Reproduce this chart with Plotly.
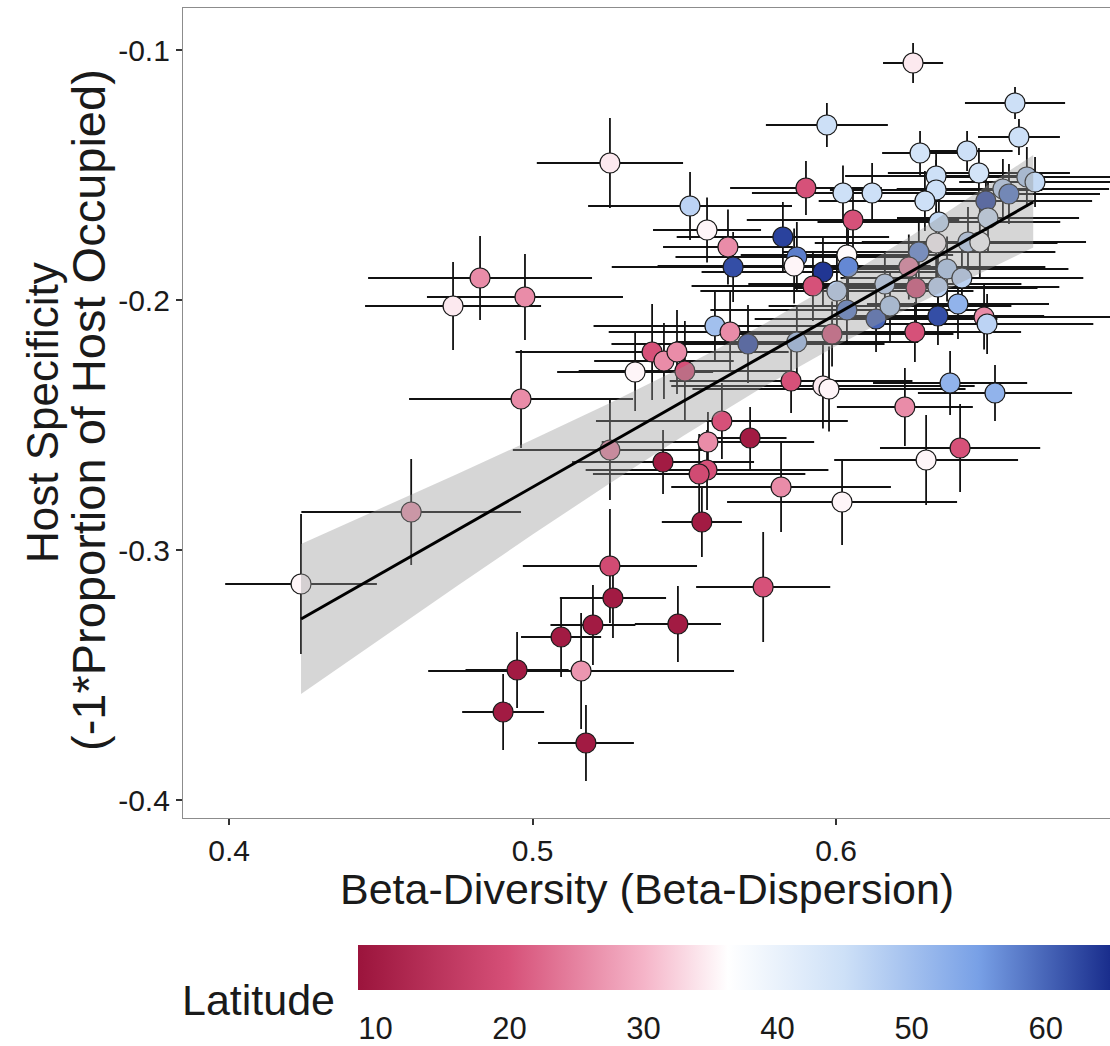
import plotly.graph_objects as go

# ---- data ----
beta_div = [0.5255, 0.4827, 0.4975, 0.4738, 0.4962, 0.5338, 0.4237, 0.4600, 0.5255, 0.5255,
            0.5265, 0.5199, 0.5094, 0.4949, 0.5160, 0.4903, 0.5176, 0.5624, 0.5717, 0.5578,
            0.5430, 0.5575, 0.5549, 0.5819, 0.6020, 0.6297, 0.6409, 0.6227, 0.5558, 0.5760,
            0.5479, 0.5394, 0.5433, 0.5476, 0.5502, 0.5601, 0.5651, 0.5710, 0.5871, 0.5987,
            0.6036, 0.6132, 0.6178, 0.6260, 0.6336, 0.6402, 0.6488, 0.6498, 0.6376, 0.6524,
            0.5852, 0.5957, 0.5977, 0.6254, 0.6590, 0.6603, 0.5970, 0.6277, 0.6432, 0.6330,
            0.6471, 0.6330, 0.6293, 0.6119, 0.6023, 0.5901, 0.6056, 0.6629, 0.6656, 0.6550,
            0.6570, 0.6494, 0.6501, 0.6339, 0.6435, 0.6474, 0.6330, 0.6273, 0.6240, 0.6366,
            0.6415, 0.6336, 0.6264, 0.6161, 0.5519, 0.5575, 0.5644, 0.5661, 0.5825, 0.5871,
            0.5862, 0.5957, 0.5924, 0.6036, 0.6040, 0.6003]
host_spec = [-0.1452, -0.1912, -0.1988, -0.2024, -0.2396, -0.2288, -0.3136, -0.2848, -0.2600, -0.3064,
             -0.3192, -0.3300, -0.3348, -0.3480, -0.3484, -0.3648, -0.3772, -0.2484, -0.2552, -0.2568,
             -0.2648, -0.2680, -0.2696, -0.2748, -0.2808, -0.2640, -0.2592, -0.2428, -0.2888, -0.3148,
             -0.3296, -0.2208, -0.2244, -0.2208, -0.2284, -0.2104, -0.2128, -0.2176, -0.2168, -0.2136,
             -0.2040, -0.2076, -0.2024, -0.2128, -0.2064, -0.2016, -0.2068, -0.2096, -0.2332, -0.2372,
             -0.2324, -0.2344, -0.2356, -0.1052, -0.1212, -0.1348, -0.1300, -0.1412, -0.1404, -0.1504,
             -0.1492, -0.1560, -0.1604, -0.1572, -0.1572, -0.1552, -0.1680, -0.1508, -0.1528, -0.1556,
             -0.1576, -0.1604, -0.1672, -0.1688, -0.1768, -0.1768, -0.1772, -0.1808, -0.1868, -0.1876,
             -0.1912, -0.1948, -0.1952, -0.1936, -0.1624, -0.1720, -0.1788, -0.1868, -0.1748, -0.1828,
             -0.1864, -0.1888, -0.1944, -0.1820, -0.1868, -0.1964]
beta_err = [0.0241, 0.0369, 0.0323, 0.0290, 0.0369, 0.0257, 0.0250, 0.0362, 0.0320, 0.0287,
            0.0175, 0.0140, 0.0132, 0.0170, 0.0504, 0.0135, 0.0158, 0.0415, 0.0120, 0.0350,
            0.0300, 0.0400, 0.0350, 0.0362, 0.0379, 0.0303, 0.0264, 0.0224, 0.0132, 0.0221,
            0.0142, 0.0450, 0.0230, 0.0300, 0.0350, 0.0400, 0.0400, 0.0450, 0.0400, 0.0400,
            0.0450, 0.0400, 0.0400, 0.0350, 0.0350, 0.0300, 0.0450, 0.0350, 0.0254, 0.0254,
            0.0400, 0.0500, 0.0450, 0.0099, 0.0165, 0.0135, 0.0201, 0.0125, 0.0150, 0.0300,
            0.0300, 0.0350, 0.0350, 0.0350, 0.0300, 0.0250, 0.0350, 0.0300, 0.0250, 0.0350,
            0.0300, 0.0350, 0.0300, 0.0400, 0.0350, 0.0350, 0.0400, 0.0450, 0.0450, 0.0400,
            0.0400, 0.0400, 0.0400, 0.0450, 0.0336, 0.0178, 0.0214, 0.0400, 0.0350, 0.0400,
            0.0450, 0.0400, 0.0400, 0.0350, 0.0400, 0.0450]
host_err = [0.0180, 0.0168, 0.0172, 0.0176, 0.0196, 0.0156, 0.0280, 0.0212, 0.0200, 0.0228,
            0.0160, 0.0160, 0.0160, 0.0152, 0.0232, 0.0152, 0.0152, 0.0152, 0.0124, 0.0120,
            0.0128, 0.0160, 0.0160, 0.0180, 0.0172, 0.0180, 0.0176, 0.0156, 0.0140, 0.0220,
            0.0152, 0.0192, 0.0152, 0.0168, 0.0200, 0.0144, 0.0160, 0.0156, 0.0140, 0.0130,
            0.0140, 0.0132, 0.0140, 0.0120, 0.0116, 0.0140, 0.0130, 0.0120, 0.0128, 0.0112,
            0.0128, 0.0170, 0.0170, 0.0080, 0.0064, 0.0072, 0.0088, 0.0088, 0.0080, 0.0100,
            0.0100, 0.0120, 0.0120, 0.0120, 0.0110, 0.0108, 0.0120, 0.0120, 0.0100, 0.0120,
            0.0120, 0.0120, 0.0140, 0.0140, 0.0140, 0.0140, 0.0140, 0.0140, 0.0130, 0.0130,
            0.0120, 0.0120, 0.0140, 0.0130, 0.0136, 0.0130, 0.0150, 0.0140, 0.0140, 0.0140,
            0.0150, 0.0140, 0.0140, 0.0140, 0.0150, 0.0150]
latitude = [34.5, 26, 26, 34.5, 26, 35.5, 35.5, 27, 25, 19,
            10, 10, 10, 10, 27, 10, 10, 20, 10, 26,
            10, 20, 19, 26, 35.5, 35.5, 20, 26, 10, 20,
            10, 20, 26, 26, 20, 50, 26, 62, 50, 21,
            58, 60, 48, 20, 62, 52, 26, 47, 52, 52,
            20, 34.5, 35.5, 34.5, 45, 45, 45, 44, 45, 45,
            44, 45, 45, 45, 45, 20, 20, 48, 46, 47,
            58, 62, 45, 46, 47, 36.5, 35.5, 57, 25, 48,
            47, 47, 20, 47, 47, 35.5, 26, 62, 63, 58,
            35.5, 64, 20, 36, 57, 47]

# regression line and its confidence band
fit_x = [0.4237, 0.6650]
fit_y = [-0.3276, -0.1608]
band_x = [0.4237, 0.450, 0.475, 0.500, 0.525, 0.550, 0.575, 0.600, 0.625, 0.6650]
band_lo = [-0.3576, -0.3354, -0.3145, -0.2938, -0.2737, -0.2541, -0.2355, -0.2184, -0.2026, -0.1790]
band_hi = [-0.2976, -0.2834, -0.2697, -0.2558, -0.2415, -0.2265, -0.2105, -0.1930, -0.1742, -0.1420]

x_ticks = [0.4, 0.5, 0.6]
x_ticklabels = ["0.4", "0.5", "0.6"]
y_ticks = [-0.1, -0.2, -0.3, -0.4]
y_ticklabels = ["-0.1", "-0.2", "-0.3", "-0.4"]
lat_ticks = [10, 20, 30, 40, 50, 60]
lat_min, lat_max = 8.7, 64.8

colorscale = [
    [0.0, "#9B143C"],
    [0.20, "#D65078"],
    [0.38, "#F5B4C8"],
    [0.492, "#FFFFFF"],
    [0.647, "#CDE0F7"],
    [0.825, "#78A0E6"],
    [1.0, "#192D8C"],
]

FONT = "Liberation Sans, Arial, Helvetica, sans-serif"

fig = go.Figure()

fig.add_trace(go.Scatter(
    x=beta_div, y=host_spec, mode="markers",
    error_x=dict(type="data", array=beta_err, visible=True, color="#111111", thickness=1.8, width=0),
    error_y=dict(type="data", array=host_err, visible=True, color="#111111", thickness=1.8, width=0),
    marker=dict(
        size=20, color=latitude, colorscale=colorscale, cmin=lat_min, cmax=lat_max,
        line=dict(color="#1a1a1a", width=1.2),
        showscale=True,
        colorbar=dict(
            orientation="h", x=(358 - 183) / 927, xanchor="left",
            y=(818 - 945) / 810, yanchor="top",
            len=752, lenmode="pixels", thickness=45, thicknessmode="pixels",
            outlinewidth=0, xpad=0, ypad=0,
            tickvals=lat_ticks, ticks="outside", tickcolor="white", ticklen=12, tickwidth=1,
            tickfont=dict(family=FONT, size=31, color="#1a1a1a"),
        ),
    ),
    showlegend=False, hoverinfo="skip",
))

fig.add_trace(go.Scatter(
    x=band_x + band_x[::-1], y=band_hi + band_lo[::-1],
    fill="toself", fillcolor="rgba(153,153,153,0.4)", mode="lines",
    line=dict(width=0), showlegend=False, hoverinfo="skip",
))

fig.add_trace(go.Scatter(
    x=fit_x, y=fit_y, mode="lines", line=dict(color="black", width=3),
    showlegend=False, hoverinfo="skip",
))

axis_common = dict(
    showgrid=False, zeroline=False, showline=True,
    linecolor="#8c8c8c", linewidth=1.2,
    ticks="outside", ticklen=6, tickwidth=1.5, tickcolor="#333333",
    tickfont=dict(family=FONT, size=30, color="#1a1a1a"),
)

fig.update_layout(
    width=1110, height=1046,
    margin=dict(l=183, r=0, t=8, b=228),
    paper_bgcolor="white", plot_bgcolor="white",
    xaxis=dict(range=[0.3848, 0.6903], tickvals=x_ticks, ticktext=x_ticklabels, mirror=True, **axis_common),
    yaxis=dict(range=[-0.4072, -0.0832], tickvals=y_ticks, ticktext=y_ticklabels, mirror=False, **axis_common),
    annotations=[
        dict(text="Beta-Diversity (Beta-Dispersion)", xref="paper", yref="paper",
             x=0.5, y=(818 - 889) / 810, xanchor="center", yanchor="middle", showarrow=False,
             font=dict(family=FONT, size=43, color="#1a1a1a")),
        dict(text="Host Specificity", xref="paper", yref="paper",
             x=(42 - 183) / 927, y=(818 - 413) / 810, xanchor="center", yanchor="middle",
             textangle=-90, showarrow=False, font=dict(family=FONT, size=44, color="#1a1a1a")),
        dict(text="(-1*Proportion of Host Occupied)", xref="paper", yref="paper",
             x=(88 - 183) / 927, y=(818 - 410) / 810, xanchor="center", yanchor="middle",
             textangle=-90, showarrow=False, font=dict(family=FONT, size=47, color="#1a1a1a")),
        dict(text="Latitude", xref="paper", yref="paper",
             x=(258 - 183) / 927, y=(818 - 1000) / 810, xanchor="center", yanchor="middle",
             showarrow=False, font=dict(family=FONT, size=43, color="#1a1a1a")),
    ],
)

fig.write_html("out.html", config={"displayModeBar": False})
